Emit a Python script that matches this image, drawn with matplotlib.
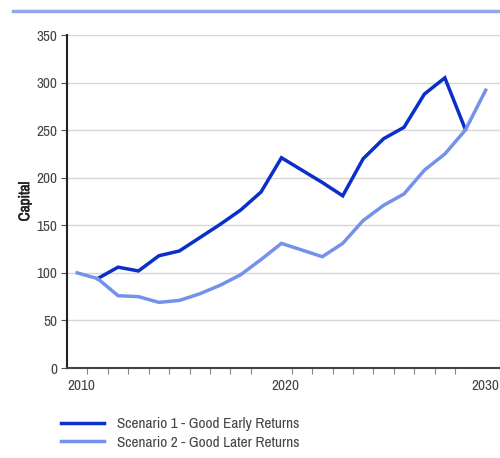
import numpy as np
import matplotlib
matplotlib.use('Agg')
import matplotlib.pyplot as plt
import matplotlib.transforms as mtransforms
import matplotlib.patheffects as pe
from matplotlib.lines import Line2D
from matplotlib import font_manager

# narrow face if one is installed, else Liberation Sans
narrow = [f.name for f in font_manager.fontManager.ttflist
          if 'Narrow' in f.name or 'Condensed' in f.name]
plt.rcParams['font.family'] = (sorted(set(narrow))[:1] or []) + ['Liberation Sans', 'DejaVu Sans']

# one point per year, plotted mid-year
years = np.arange(2010, 2031)
early = [np.nan, 94, 106, 102, 118, 123, 137, 151, 166, 185, 221, 208, 195, 181,
         220, 241, 253, 288, 305, 251, np.nan]
later = [100, 94, 76, 75, 69, 71, 78, 87, 98, 114, 131, 124, 117, 131,
         155, 171, 183, 208, 225, 250, 292]
labels = ['Scenario 1 - Good Early Returns', 'Scenario 2 - Good Later Returns']
major_years = [2010, 2020, 2030]

dark = '#0b2fc9'
light = '#7592ea'

fig = plt.figure(figsize=(5, 4.58), dpi=100)
ax = fig.add_axes([0.134, 0.1965, 0.866, 0.727])

x = years + 0.5
ax.plot(x, early, color=dark, lw=2.5, solid_joinstyle='miter', label=labels[0])
ax.plot(x, later, color=light, lw=2.5, solid_joinstyle='miter', label=labels[1])

ax.set_xlim(2010, 2031.2)
ax.set_ylim(0, 350)
ax.set_yticks(range(0, 351, 50))
ax.set_xticks(major_years)
ax.set_xticks(years, minor=True)
ax.set_xticklabels([str(y) for y in major_years], ha='left')

ax.grid(axis='y', color='#d6d6d6', lw=1)
ax.set_axisbelow(True)
for s in ['top', 'right']:
    ax.spines[s].set_visible(False)
ax.spines['left'].set_color('#222222')
ax.spines['left'].set_linewidth(1.5)
ax.spines['bottom'].set_color('#444444')
ax.spines['bottom'].set_linewidth(1.5)

ax.tick_params(axis='y', length=4, width=0.8, color='#555555', labelsize=11,
               labelcolor='#444444', pad=3)
ax.tick_params(axis='x', which='major', length=0, labelsize=11,
               labelcolor='#444444', pad=8)
ax.tick_params(axis='x', which='minor', length=4, width=0.8, color='#888888')

# pull the 2030 label back a little so it stays inside the figure
last = ax.xaxis.get_major_ticks()[-1].label1
last.set_transform(last.get_transform() +
                   mtransforms.ScaledTranslation(-4 / 100, 0, fig.dpi_scale_trans))

ax.set_ylabel('Capital', fontsize=11, fontweight='bold', color='#222222', labelpad=3,
              path_effects=[pe.withStroke(linewidth=0.4, foreground='#222222')])

fig.add_artist(Line2D([0.026, 1.0], [0.977, 0.977], color='#93a8ea', lw=2.5,
                      transform=fig.transFigure))

fig.legend(loc='lower left', bbox_to_anchor=(0.094, -0.012), frameon=False,
           fontsize=11, handlelength=2.8, handletextpad=0.85, labelspacing=0.3,
           labelcolor='#444444')

fig.savefig('out.png', dpi=100)
